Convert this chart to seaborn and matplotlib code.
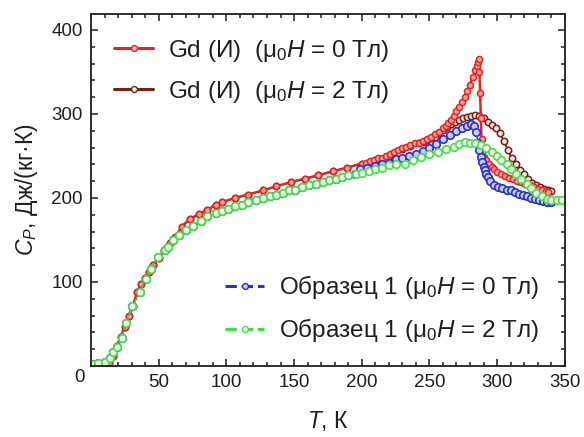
import matplotlib
matplotlib.use("Agg")
import matplotlib.pyplot as plt
from matplotlib.lines import Line2D
from matplotlib.ticker import MultipleLocator
import seaborn as sns

# Heat capacity of Gd (reference) and sample 1, with and without field
gd0_T = [10, 13, 16, 19, 22, 25, 28, 31, 34, 37, 40, 43, 46, 50, 54, 58, 62, 67, 73, 80,
         86, 92, 97, 106, 116, 127, 137, 148, 158, 168, 179, 189, 200, 203, 206, 209, 212,
         215, 218, 221, 224, 227, 230, 233, 236, 239, 242, 245, 248, 251, 254, 257, 260,
         262, 264, 266, 268, 270, 272, 274, 276, 278, 280, 282, 284, 285, 286, 286.5, 287,
         287.5, 288, 288.5, 289, 290, 292, 294, 296, 298, 300, 303, 306, 309, 312, 315, 318,
         321, 324, 327, 330, 333, 336, 338]
gd0_Cp = [0, 4, 12, 24, 35, 47, 60, 72, 88, 97, 105, 112, 120, 129, 138, 146, 153, 166, 175, 181,
          186, 192, 195, 200, 204, 209, 214, 219, 223, 227, 232, 236, 241, 242, 244, 245, 247,
          248, 250, 252, 255, 257, 259, 261, 263, 265, 266, 268, 270, 273, 276, 279, 283,
          286, 289, 293, 298, 303, 308, 314, 320, 327, 335, 344, 352, 357, 362, 366, 350,
          325, 295, 270, 255, 249, 245, 240, 237, 234, 231, 228, 226, 224, 222, 220, 219,
          217, 215, 213, 211, 209, 208, 207]

gd2_T = [10, 13, 16, 19, 22, 25, 28, 31, 34, 37, 40, 43, 46, 50, 54, 58, 62, 67, 73, 80,
         86, 92, 97, 106, 116, 127, 137, 148, 158, 168, 179, 189, 200, 210, 220, 230, 236,
         242, 245, 248, 251, 254, 257, 260, 263, 266, 269, 272, 275, 278, 281, 284, 287,
         290, 293, 296, 299, 302, 305, 308, 311, 314, 317, 320, 323, 326, 329, 332, 335,
         338, 340]
gd2_Cp = [0, 4, 12, 24, 35, 47, 60, 72, 88, 97, 105, 112, 120, 129, 138, 146, 153, 166, 175, 181,
          186, 192, 195, 200, 204, 209, 214, 219, 223, 227, 232, 236, 241, 245, 250, 258, 262,
          265, 267, 269, 271, 273, 277, 281, 285, 288, 291, 293, 295, 296, 298, 299, 298,
          295, 291, 287, 283, 277, 268, 257, 247, 240, 233, 228, 223, 218, 215, 213, 211,
          209, 208]

s0_T = [0.5, 5, 10, 14, 16.5, 19, 22.5, 26, 30.5, 36, 40.5, 44.5, 49.5, 54.5, 57, 60.5, 65,
        70, 75, 81, 86, 92, 97, 101.5, 106, 111.5, 116, 122, 127, 132, 137, 141.5, 146, 151,
        156, 161, 166, 171, 176, 181, 185.5, 190, 195, 199, 204, 210, 215, 220, 225, 230,
        235, 240, 245, 250, 255, 260, 265, 270, 274, 278, 281, 283, 284.5, 286, 287, 288,
        289, 290, 291, 292, 293, 295, 298, 301, 304, 307, 310, 313, 316, 319, 322, 325,
        328, 331, 334, 337, 340]
s0_Cp = [2, 3, 5, 10, 17, 23, 33, 51, 71, 88, 104, 116, 130, 138, 142, 150, 156,
         162, 167, 173, 178, 182, 185, 187, 190, 192, 195, 198, 200, 202, 204, 206, 209, 210,
         213, 215, 217, 219, 221, 223, 225, 227, 229, 234, 236, 238, 240, 242, 246, 247,
         250, 252, 256, 260, 264, 270, 275, 280, 283, 286, 288, 286, 279, 265, 257, 249,
         243, 237, 233, 229, 225, 220, 215, 213, 212, 210, 209, 207, 205, 204, 202, 200,
         199, 197, 196, 195, 195]

s2_T = [0.5, 5, 10, 14, 16.5, 19, 22.5, 26, 30.5, 36, 40.5, 44.5, 49.5, 54.5, 57, 60.5, 65,
        70, 75, 81, 86, 92, 97, 101.5, 106, 111.5, 116, 122, 127, 132, 137, 141.5, 146, 151,
        156, 161, 166, 171, 176, 181, 185.5, 190, 195.5, 200, 205, 210, 215, 220, 225, 232,
        238, 244, 250, 256, 262, 268, 272, 276, 280, 284, 288, 292, 296, 300, 303, 307,
        310, 314, 318, 322, 325, 329, 333, 337, 340, 344, 348]
s2_Cp = [2, 3, 5, 10, 17, 23, 33, 51, 71, 88, 104, 116, 130, 138, 142, 150, 156,
         162, 167, 173, 178, 182, 185, 187, 190, 192, 195, 198, 200, 202, 204, 206, 209, 210,
         213, 215, 217, 219, 221, 223, 225, 227, 229, 230, 232, 234, 236, 239, 240, 241,
         245, 249, 252, 255, 258, 261, 264, 267, 266, 265, 263, 259, 255, 250, 245, 240,
         235, 229, 223, 217, 212, 206, 202, 199, 198, 198, 198]

labels = ["Gd (И)  (μ$_0$$\\mathit{H}$ = 0 Тл)",
          "Gd (И)  (μ$_0$$\\mathit{H}$ = 2 Тл)",
          "Образец 1 (μ$_0$$\\mathit{H}$ = 0 Тл)",
          "Образец 1 (μ$_0$$\\mathit{H}$ = 2 Тл)"]

RED = "#e8231f"
BROWN = "#7b1d16"
BLUE = "#2b2fd6"
GREEN = "#3fe23a"
INK = "#1e1e1e"

sns.set_theme(style="white")
plt.rcParams["font.family"] = ["Liberation Sans", "DejaVu Sans"]
plt.rcParams["mathtext.fontset"] = "custom"
plt.rcParams["mathtext.rm"] = "Liberation Sans"
plt.rcParams["mathtext.it"] = "Liberation Sans:italic"
plt.rcParams["mathtext.bf"] = "Liberation Sans:bold"

fig = plt.figure(figsize=(5.84, 4.37), dpi=100)
ax = fig.add_axes([0.156, 0.1625, 0.811, 0.8055])

common = dict(ax=ax, sort=False, estimator=None, legend=False, marker="o")
sns.lineplot(x=gd2_T, y=gd2_Cp, color=BROWN, linewidth=1.3, markersize=4.6,
             markeredgewidth=1.1, markeredgecolor=BROWN, markerfacecolor="#f3e6e4", **common)
sns.lineplot(x=gd0_T, y=gd0_Cp, color=RED, linewidth=1.8, markersize=4.4,
             markeredgewidth=1.1, markeredgecolor=RED, markerfacecolor="#f4a3a0", **common)
sns.lineplot(x=s0_T, y=s0_Cp, color=BLUE, linewidth=1.0, linestyle="--", markersize=5.4,
             markeredgewidth=1.2, markeredgecolor=BLUE, markerfacecolor="#c9ccf4", **common)
sns.lineplot(x=s2_T, y=s2_Cp, color=GREEN, linewidth=1.0, linestyle="--", markersize=5.4,
             markeredgewidth=1.2, markeredgecolor=GREEN, markerfacecolor="white", **common)

ax.set_xlim(0, 350)
ax.set_ylim(0, 419)
ax.xaxis.set_minor_locator(MultipleLocator(10))
ax.yaxis.set_minor_locator(MultipleLocator(20))
ax.set_xticks([50, 100, 150, 200, 250, 300, 350])
ax.set_yticks([100, 200, 300, 400])
ax.tick_params(which="both", direction="in", top=True, right=True, bottom=True, left=True,
               color=INK, width=1.1, labelsize=13.5, labelcolor=INK)
ax.tick_params(which="major", length=5, pad=6)
ax.tick_params(which="minor", length=3)
for sp in ax.spines.values():
    sp.set_color(INK)
    sp.set_linewidth(1.3)
ax.text(-0.013, -0.034, "0", transform=ax.transAxes, ha="right", va="center",
        fontsize=13.5, color=INK)

ax.set_xlabel("$\\mathit{T}$, К", fontsize=16.5, labelpad=13, color=INK)
ax.set_ylabel("$\\mathit{C}_{\\mathit{P}}$, Дж/(кг·К)", fontsize=16.5, labelpad=8, color=INK)


def handle(color, ls, face):
    return Line2D([], [], color=color, linestyle=ls, linewidth=2.2, marker="o",
                  markersize=4.2, markeredgecolor=color, markerfacecolor=face,
                  markeredgewidth=1.0)


leg_kw = dict(loc="center left", frameon=False, fontsize=17.5, handlelength=1.6,
              handletextpad=0.6, labelspacing=0.62, borderpad=0, borderaxespad=0)
leg1 = ax.legend([handle(RED, "-", "#f6c0be"), handle(BROWN, "-", "white")], labels[:2],
                 bbox_to_anchor=(0.049, 0.837), **leg_kw)
for t in leg1.get_texts():
    t.set_color(INK)
ax.add_artist(leg1)
leg2 = ax.legend([handle(BLUE, "--", "#c9ccf4"), handle(GREEN, "--", "white")], labels[2:],
                 bbox_to_anchor=(0.283, 0.162), **leg_kw)
for t in leg2.get_texts():
    t.set_color(INK)

fig.savefig("out.png", dpi=100, facecolor="white")
